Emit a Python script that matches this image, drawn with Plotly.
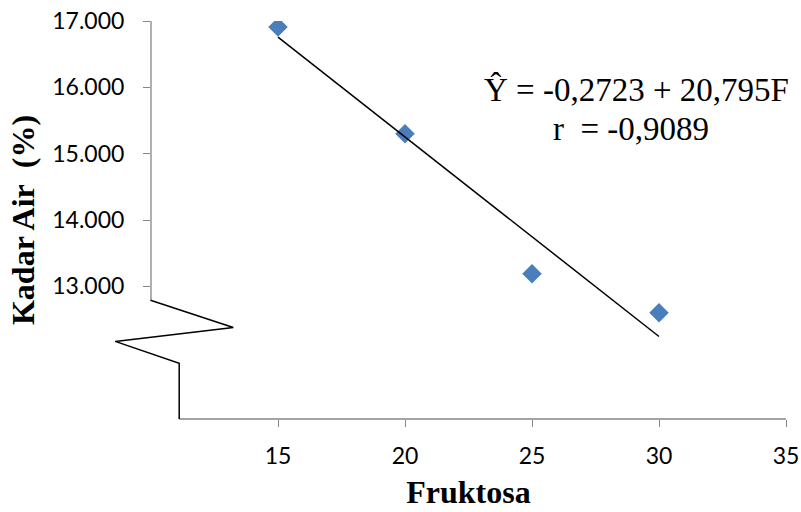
import numpy as np
import plotly.graph_objects as go

# Fructose level (%) versus moisture content (%)
fruktosa = [15, 20, 25, 30]
kadar_air = [16.91, 15.30, 13.19, 12.60]

x_ticks = [15, 20, 25, 30, 35]
y_ticks = [13, 14, 15, 16, 17]
x_range = [10, 35]
y_range = [11, 17]

equation_line = "Ŷ = -0,2723 + 20,795F"
r_line = "r\u00a0 = -0,9089"

# least-squares trend line through the observations
slope, intercept = np.polyfit(fruktosa, kadar_air, 1)
trend_x = [fruktosa[0], fruktosa[-1]]
trend_y = [intercept + slope * v for v in trend_x]

AXIS_GREY = "#868686"


def to_paper(x, y):
    px = (x - x_range[0]) / (x_range[1] - x_range[0])
    py = (y - y_range[0]) / (y_range[1] - y_range[0])
    return px, py


# axis break drawn on the lower part of the value axis
break_pts = [(9.98, 12.79), (13.24, 12.38), (8.59, 12.17), (11.11, 11.84), (11.11, 11.0)]
break_path = "M " + " L ".join("{:.4f},{:.4f}".format(*to_paper(x, y)) for x, y in break_pts)

fig = go.Figure()
fig.add_trace(go.Scatter(
    x=fruktosa, y=kadar_air, mode="markers",
    marker=dict(symbol="diamond", size=15, color="#4A7EBB"),
    showlegend=False, hoverinfo="x+y",
))
fig.add_trace(go.Scatter(
    x=trend_x, y=trend_y, mode="lines",
    line=dict(color="black", width=1.5),
    showlegend=False, hoverinfo="skip",
))

y_top = to_paper(x_range[0], y_range[1])[1]
y_break = to_paper(x_range[0], break_pts[0][1])[1]
x_start = to_paper(break_pts[-1][0], y_range[0])[0]

shapes = [
    dict(type="line", xref="paper", yref="paper", x0=0, x1=0, y0=y_break, y1=y_top,
         line=dict(color=AXIS_GREY, width=1.3)),
    dict(type="line", xref="paper", yref="paper", x0=x_start, x1=1, y0=0, y1=0,
         line=dict(color=AXIS_GREY, width=1.3)),
    dict(type="path", xref="paper", yref="paper", path=break_path,
         line=dict(color="black", width=1.5)),
]

eq_font = dict(family="Liberation Serif", size=33, color="black")
title_font = dict(family="Liberation Serif", size=32, color="black", weight="bold")
tick_font = dict(family="Lato", size=23, color="black")

fig.update_layout(
    width=801, height=512,
    margin=dict(l=151, r=15, t=21, b=93, autoexpand=False),
    paper_bgcolor="white", plot_bgcolor="white",
    shapes=shapes,
    xaxis=dict(
        range=x_range, tickvals=x_ticks, showgrid=False, zeroline=False, showline=False,
        automargin=False,
        ticks="outside", ticklen=7, tickwidth=1.3, tickcolor=AXIS_GREY,
        tickfont=tick_font, ticklabelstandoff=9,
        title=dict(text="Fruktosa", standoff=13, font=title_font),
    ),
    yaxis=dict(
        range=y_range, tickvals=y_ticks, tickformat=".3f", showgrid=False, zeroline=False,
        showline=False, automargin=False,
        ticks="outside", ticklen=7, tickwidth=1.3, tickcolor=AXIS_GREY,
        tickfont=tick_font, ticklabelstandoff=14,
        title=dict(text="Kadar Air\u00a0 (%)", standoff=8, font=title_font),
    ),
    annotations=[
        dict(x=29.11, y=15.96, xref="x", yref="y", text=equation_line, showarrow=False,
             xanchor="center", yanchor="middle", font=eq_font),
        dict(x=28.91, y=15.37, xref="x", yref="y", text=r_line, showarrow=False,
             xanchor="center", yanchor="middle", font=eq_font),
    ],
)

fig.write_html("out.html")
